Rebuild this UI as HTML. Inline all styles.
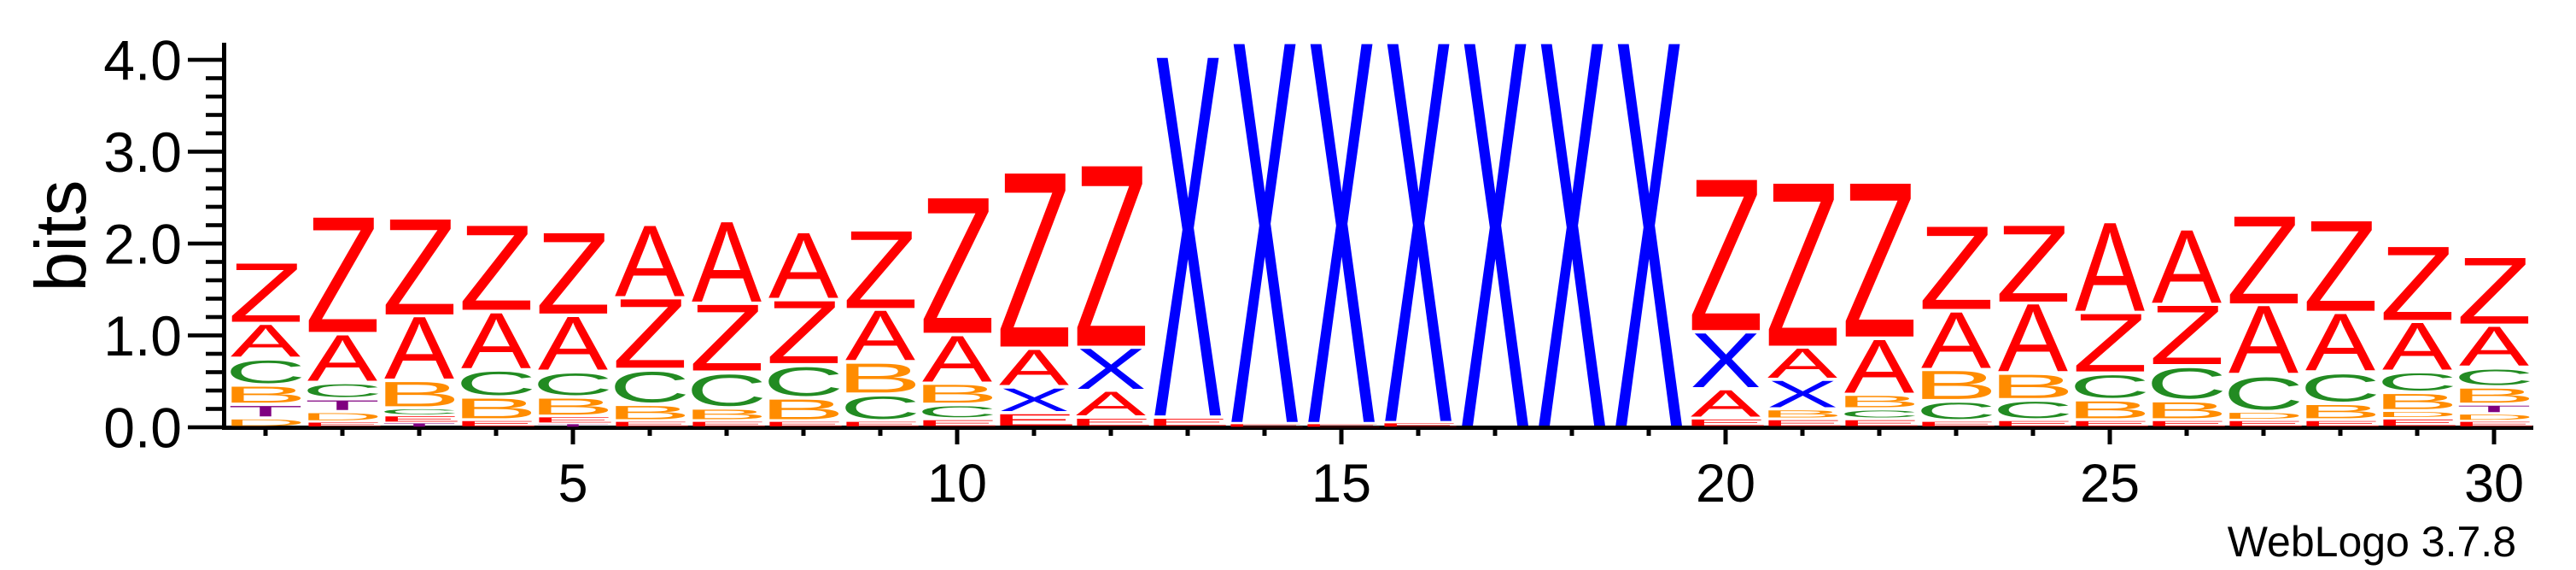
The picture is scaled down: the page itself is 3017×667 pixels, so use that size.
<!DOCTYPE html>
<html><head><meta charset="utf-8"><style>
html,body{margin:0;padding:0;background:#fff;}
svg{display:block;font-family:"Liberation Sans",sans-serif;}
</style></head><body>
<svg id="logo" width="3017" height="667" viewBox="0 0 3017 667" xmlns="http://www.w3.org/2000/svg">
<g id="axes"></g>
<g id="stacks"></g>
<text x="0" y="0" font-size="84" text-anchor="middle" transform="translate(100,276) rotate(-90)">bits</text>
<text x="2947" y="651" font-size="50" text-anchor="end">WebLogo 3.7.8</text>
</svg>
<script>
const positions = [1,2,3,4,5,6,7,8,9,10,11,12,13,14,15,16,17,18,19,20,21,22,23,24,25,26,27,28,29,30];
const stackLetters = [
 ['D','T','B','C','A','Z'],
 ['E','D','T','C','A','Z'],
 ['T','E','C','B','A','Z'],
 ['E','B','C','A','Z'],
 ['T','E','B','C','A','Z'],
 ['E','B','C','Z','A'],
 ['E','B','C','Z','A'],
 ['E','B','C','Z','A'],
 ['E','C','B','A','Z'],
 ['E','C','B','A','Z'],
 ['E','X','A','Z'],
 ['E','A','X','Z'],
 ['E','X'],
 ['E','X'],
 ['E','X'],
 ['E','X'],
 ['X'],
 ['X'],
 ['X'],
 ['E','A','X','Z'],
 ['E','B','X','A','Z'],
 ['E','C','B','A','Z'],
 ['E','C','B','A','Z'],
 ['E','C','B','A','Z'],
 ['E','B','C','Z','A'],
 ['E','B','C','Z','A'],
 ['E','D','C','A','Z'],
 ['E','B','C','A','Z'],
 ['E','D','B','C','A','Z'],
 ['E','D','T','B','C','A','Z']
];
const stackBits = [
 [0.10,0.15,0.21,0.29,0.38,0.67],
 [0.06,0.11,0.14,0.18,0.53,1.28],
 [0.05,0.08,0.08,0.30,0.70,1.07],
 [0.08,0.25,0.30,0.63,0.95],
 [0.04,0.08,0.21,0.28,0.61,0.91],
 [0.07,0.18,0.38,0.78,0.80],
 [0.07,0.14,0.39,0.75,0.90],
 [0.07,0.25,0.36,0.71,0.74],
 [0.07,0.29,0.35,0.57,0.87],
 [0.09,0.16,0.23,0.53,1.50],
 [0.16,0.28,0.42,1.92],
 [0.11,0.29,0.47,1.99],
 [0.11,3.93],
 [0.04,4.15],
 [0.04,4.15],
 [0.05,4.14],
 [4.19],
 [4.19],
 [4.19],
 [0.10,0.32,0.62,1.67],
 [0.09,0.11,0.32,0.35,1.80],
 [0.09,0.11,0.16,0.61,1.70],
 [0.07,0.22,0.34,0.64,0.93],
 [0.08,0.22,0.29,0.76,0.86],
 [0.08,0.22,0.29,0.66,0.99],
 [0.08,0.21,0.38,0.67,0.82],
 [0.08,0.09,0.40,0.76,0.98],
 [0.08,0.18,0.34,0.65,1.01],
 [0.10,0.08,0.20,0.23,0.54,0.83],
 [0.07,0.08,0.10,0.19,0.21,0.46,0.75]
];
const yTickValues = [0,1,2,3,4];
const yTickLabels = ['0.0','1.0','2.0','3.0','4.0'];
const xTickLabels = [5,10,15,20,25,30];

const NS = 'http://www.w3.org/2000/svg';
const X0 = 266, COLW = 90, Y0 = 500, PXBIT = 107.5;
function xScale(p){ return X0 + (p - 0.5) * COLW; }
function yScale(b){ return Y0 - b * PXBIT; }
const colors = {A:'#ff0000',Z:'#ff0000',E:'#ff0000',B:'#ff8c00',D:'#ff8c00',C:'#228b22',X:'#0000ff',T:'#800080'};
// glyph ink metrics per 100px font: width, height, below-baseline, ink-center offset
const metrics = {A:[66.7,68.8,0,0],B:[54,68.8,0,1.0],C:[62.6,72.5,1.2,0.1],X:[65.8,68.8,0,0],Z:[56.6,68.8,0,-0.25],T:[56.3,68.8,0,0],D:[59.8,68.8,0,1.1],E:[52.7,68.8,0,0.3]};

function mk(tag, attrs){ const e = document.createElementNS(NS, tag); for (const k in attrs) e.setAttribute(k, attrs[k]); return e; }
const axes = document.getElementById('axes');
// y axis line
let yl = mk('rect',{x:260,y:50,width:5,height:453,fill:'#000'});


axes.appendChild(yl);
let xl = mk('rect',{x:260,y:498,width:2707,height:5,fill:'#000'});


axes.appendChild(xl);
// y ticks
for (let i = 0; i <= 20; i++) {
  const b = i * 0.2, major = (i % 5 === 0);
  const y = yScale(b);
  const t = mk('rect',{x: major?220:241, y: y-2.3, width: major?40:19, height: 4.6, fill:'#000'});
  
  
  axes.appendChild(t);
}
yTickValues.forEach((v, i) => {
  const t = mk('text',{x:213, y: yScale(v) + 23.5, 'font-size':66, 'text-anchor':'end'});
  t.textContent = yTickLabels[i];
  
  
  axes.appendChild(t);
});
// x ticks
positions.forEach(p => {
  const major = (p % 5 === 0);
  const t = mk('rect',{x: xScale(p)-2.5, y: 503, width: 5, height: major?17:7, fill:'#000'});
  
  
  axes.appendChild(t);
});
xTickLabels.forEach(v => {
  const t = mk('text',{x: xScale(v), y: 587, 'font-size':63, 'text-anchor':'middle'});
  t.textContent = String(v);
  
  
  axes.appendChild(t);
});
// stacks
const stacks = document.getElementById('stacks');
positions.forEach((p, ci) => {
  const g = mk('g', {});
  
  
  stacks.appendChild(g);
  const cx = xScale(p);
  let cum = 0;
  stackLetters[ci].forEach((L, li) => {
    const h = stackBits[ci][li];
    const yb = yScale(cum), yt = yScale(cum + h);
    cum += h;
    const slot = yb - yt;
    const inset = Math.min(2, slot * 0.15);
    const inkH = Math.max(0.6, slot - 2 * inset);
    const m = metrics[L];
    const sx = 82 / m[0], sy = inkH / m[1];
    const tx = cx - m[3] * sx, ty = yb - inset - m[2] * sy;
    const t = mk('text', {x:0, y:0, 'font-size':100, 'text-anchor':'middle', fill: colors[L],
      transform: 'translate(' + tx.toFixed(2) + ',' + ty.toFixed(2) + ') scale(' + sx.toFixed(4) + ',' + sy.toFixed(4) + ')'});
    t.textContent = L;
    
    
    g.appendChild(t);
  });
});
</script>
</body></html>
